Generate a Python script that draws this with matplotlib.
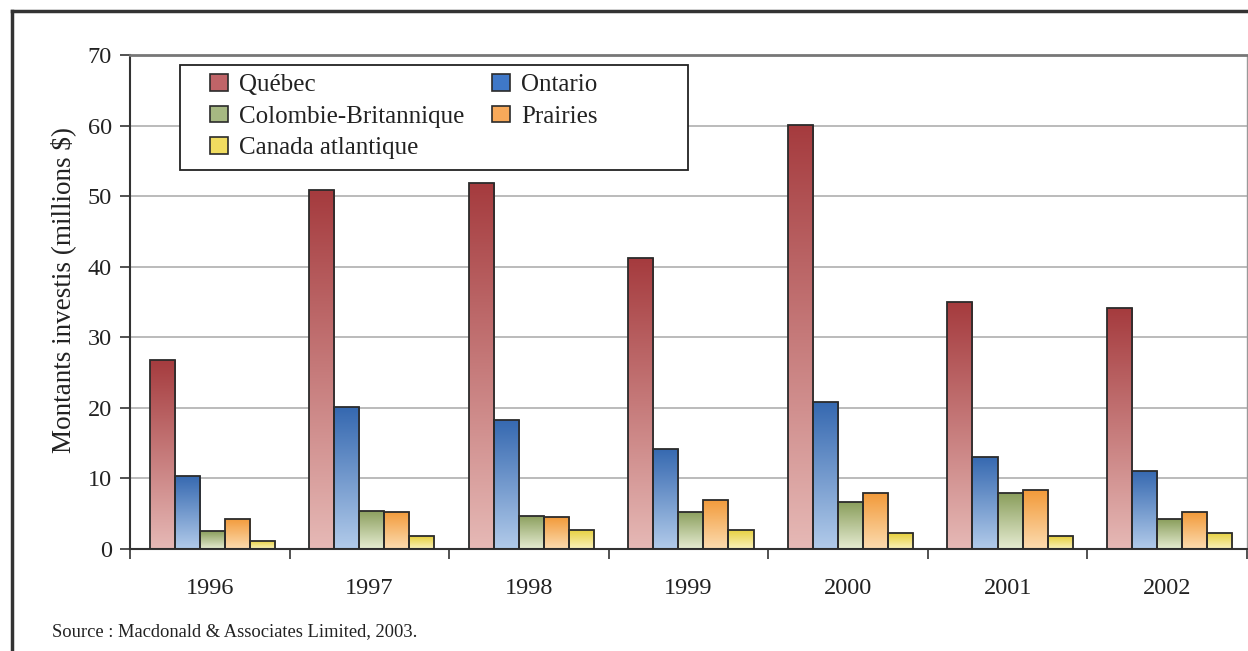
import matplotlib.pyplot as plt
import numpy as np
from matplotlib.colors import LinearSegmentedColormap
from matplotlib.patches import Patch, Rectangle
from matplotlib.lines import Line2D

# données (millions $)
annees = ['1996', '1997', '1998', '1999', '2000', '2001', '2002']
regions = ['Québec', 'Ontario', 'Colombie-Britannique', 'Prairies', 'Canada atlantique']
quebec = [26.8, 50.8, 51.8, 41.2, 60.1, 35.0, 34.1]
ontario = [10.4, 20.1, 18.3, 14.2, 20.9, 13.1, 11.1]
colombie = [2.5, 5.4, 4.7, 5.3, 6.6, 7.9, 4.2]
prairies = [4.3, 5.3, 4.5, 7.0, 7.9, 8.3, 5.2]
atlantique = [1.2, 1.8, 2.7, 2.7, 2.2, 1.8, 2.3]
series = [quebec, ontario, colombie, prairies, atlantique]

# couleurs: (haut, bas) pour le dégradé
couleurs = [('#a53b3e', '#e6b9b6'),
            ('#3568b0', '#b2cbea'),
            ('#8a9e5c', '#e6ecd2'),
            ('#f29a3a', '#fcdcb0'),
            ('#e6cf3c', '#faf2bc')]
couleurs_leg = ['#c06468', '#3f78c8', '#a6b882', '#f7a95a', '#f0dc60']

plt.rcParams['font.family'] = ['Liberation Serif', 'DejaVu Serif']

fig = plt.figure(figsize=(12.48, 6.51), dpi=100)
ax = fig.add_axes([130/1248, 1-549/651, 1117/1248, 494/651])

x = np.arange(len(annees))
w = 0.157
decal = (np.arange(5) - 2) * w + 0.015
grad = np.linspace(0, 1, 256).reshape(-1, 1)

for i, vals in enumerate(series):
    cmap = LinearSegmentedColormap.from_list('c%d' % i, [couleurs[i][1], couleurs[i][0]])
    bars = ax.bar(x + decal[i], vals, w, facecolor='none', edgecolor='#2b2b2b',
                  linewidth=1.3, zorder=3)
    for b in bars:
        x0, y0 = b.get_x(), b.get_y()
        im = ax.imshow(grad, cmap=cmap, origin='lower', aspect='auto',
                       extent=[x0, x0 + b.get_width(), y0, y0 + b.get_height()],
                       zorder=2)
        im.set_clip_path(b)

ax.set_xlim(-0.5, len(annees) - 0.5)
ax.set_ylim(0, 70)
ax.set_yticks(range(0, 71, 10))
ax.yaxis.grid(True, color='#b5b5b5', linewidth=1.3)
ax.set_axisbelow(True)

# graduations de l'axe x entre les catégories
ax.set_xticks(np.arange(len(annees) + 1) - 0.5)
ax.set_xticklabels([])
ax.set_xticks(x, minor=True)
ax.set_xticklabels(annees, minor=True, fontsize=17.5, color='#222222')
ax.tick_params(axis='x', which='minor', length=0, pad=21)
ax.tick_params(axis='x', which='major', length=7, width=1.2, color='#333333', direction='out')
ax.tick_params(axis='y', length=7, width=1.2, color='#333333', labelsize=17.5,
               labelcolor='#222222', pad=6)

for s in ['left', 'bottom']:
    ax.spines[s].set_color('#333333')
    ax.spines[s].set_linewidth(1.5)
ax.spines['top'].set_color('#777777')
ax.spines['top'].set_linewidth(2)
ax.spines['right'].set_color('#999999')
ax.spines['right'].set_linewidth(1)

ax.set_ylabel('Montants investis (millions $)', fontsize=19.5, color='#222222')
ax.yaxis.set_label_coords((76-130)/1117, (549-290)/494)

# légende : cadre dessiné à part
ax.add_patch(Rectangle((50/1117, (549-170)/494), 508/1117, 105/494, transform=ax.transAxes,
                       facecolor='white', edgecolor='#222222', linewidth=1.3, zorder=5))
ordre = [0, 2, 4, 1, 3]
poignees = [Patch(facecolor=couleurs_leg[i], edgecolor='#2b2b2b', linewidth=1.2) for i in ordre]
leg = ax.legend(poignees, [regions[i] for i in ordre], ncol=2, loc='upper left',
                bbox_to_anchor=(80/1117, (549-74)/494), fontsize=18, frameon=False,
                handlelength=0.72, handleheight=0.65, handletextpad=0.45, columnspacing=1.1,
                labelspacing=0.38, borderpad=0, borderaxespad=0)
for t in leg.get_texts():
    t.set_color('#222222')
leg.set_zorder(6)

# cadre extérieur
fig.add_artist(Line2D([12/1248, 1], [1-11/651, 1-11/651], color='#333333', linewidth=2.5))
fig.add_artist(Line2D([12/1248, 12/1248], [0, 1-11/651], color='#333333', linewidth=2.5))

fig.text(52/1248, 1-632/651, 'Source : Macdonald & Associates Limited, 2003.',
         fontsize=13.3, va='center', ha='left', color='#222222')

plt.savefig('out.png', dpi=100)
